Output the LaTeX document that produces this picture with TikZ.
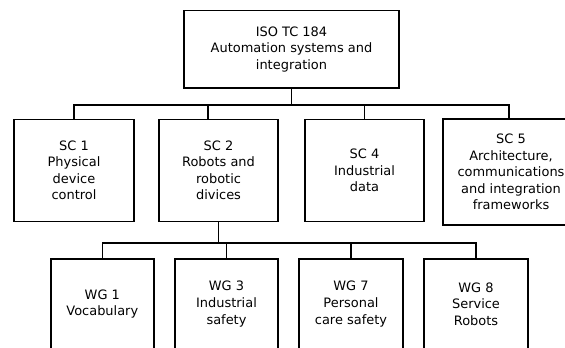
\documentclass[tikz,border=0pt]{standalone}
\usepackage{fontspec}
\setmainfont{DejaVu Sans}
\begin{document}
\begin{tikzpicture}[x=1bp,y=-1bp,
  box/.style={draw=black, line width=1.6bp, align=center, inner sep=0pt, fill=white,
    font=\fontsize{13}{16.6}\selectfont},
  link/.style={draw=black, line width=1.6bp}]
\useasboundingbox (0,0) rectangle (565,347);
\clip (0,0) rectangle (565,347);
\node[box, minimum width=215bp, minimum height=77.5bp] (iso) at (291.5,49.4)
  {ISO TC 184\\Automation systems and\\integration};
\node[box, minimum width=120bp, minimum height=102bp] (sc1) at (74,170.4)
  {SC 1\\Physical\\device\\control};
\node[box, minimum width=119bp, minimum height=102bp] (sc2) at (218.5,170.4)
  {SC 2\\Robots and\\robotic\\divices};
\node[box, minimum width=119bp, minimum height=102bp] (sc4) at (364.5,170.4)
  {SC 4\\Industrial\\data};
\node[box, minimum width=136bp, minimum height=106bp] (sc5) at (511,172)
  {SC 5\\Architecture,\\communications\\and integration\\frameworks};
\node[box, minimum width=103bp, minimum height=90bp] (wg1) at (102.3,304)
  {WG 1\\Vocabulary};
\node[box, minimum width=103bp, minimum height=90bp] (wg3) at (226.5,304)
  {WG 3\\Industrial\\safety};
\node[box, minimum width=104bp, minimum height=90bp] (wg7) at (351,304)
  {WG 7\\Personal\\care safety};
\node[box, minimum width=104bp, minimum height=90bp] (wg8) at (476,304)
  {WG 8\\Service\\Robots};
\coordinate (sc2top) at ([xshift=-10.5bp]sc2.north);
\coordinate (sc5top) at ([xshift=-2bp]sc5.north);
\draw[link] (iso.south) -- ++(0,16) -| (sc1.north);
\draw[link] (iso.south) -- ++(0,16) -| (sc2top);
\draw[link] (iso.south) -- ++(0,16) -| (sc4.north);
\draw[link] (iso.south) -- ++(0,16) -| (sc5top);
\draw[link] (sc2.south) -- ++(0,20.5) -| (wg1.north);
\draw[link] (sc2.south) -- ++(0,20.5) -| (wg3.north);
\draw[link] (sc2.south) -- ++(0,20.5) -| (wg7.north);
\draw[link] (sc2.south) -- ++(0,20.5) -| (wg8.north);
\end{tikzpicture}
\end{document}
